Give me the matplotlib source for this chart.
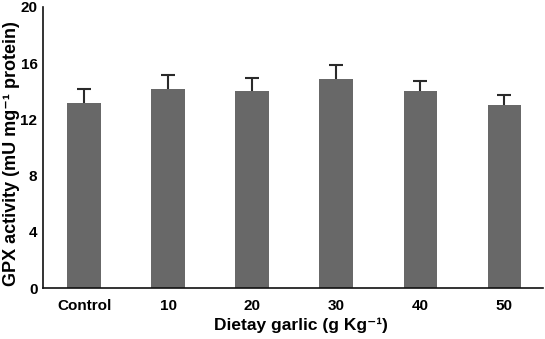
import matplotlib
matplotlib.use("Agg")
import matplotlib.pyplot as plt
import numpy as np

categories = ["Control", "10", "20", "30", "40", "50"]
gpx_mean = [13.2, 14.15, 14.05, 14.85, 14.05, 13.05]
gpx_err = [0.95, 1.0, 0.9, 1.05, 0.65, 0.7]
y_ticks = [0, 4, 8, 12, 16, 20]

plt.rcParams["font.family"] = ["Liberation Sans", "DejaVu Sans"]

fig = plt.figure(figsize=(5.45, 3.39), dpi=100)
ax = fig.add_axes([43 / 545, 51 / 339, 500 / 545, 281 / 339])

x = np.arange(len(categories))
bars = ax.bar(x, gpx_mean, width=0.4, color="#686868", zorder=2,
              yerr=[np.zeros(len(gpx_err)), gpx_err],
              error_kw=dict(ecolor="#2a2a2a", elinewidth=1.5, capsize=5, capthick=1.5))
# keep only the upper caps of the error bars
caplines = bars.errorbar.lines[1]
caplines[0].set_visible(False)

ax.set_xlim(-0.49, 5.46)
ax.set_ylim(0, 20)
ax.set_xticks(x)
ax.set_xticklabels(categories, fontsize=11, fontweight="bold")
ax.set_yticks(y_ticks)
ax.set_yticklabels([str(t) for t in y_ticks], fontsize=11, fontweight="bold")
ax.tick_params(length=0)
ax.tick_params(axis="x", pad=8)
ax.tick_params(axis="y", pad=4)

for s in ("top", "right"):
    ax.spines[s].set_visible(False)
for s in ("left", "bottom"):
    ax.spines[s].set_linewidth(1.2)
    ax.spines[s].set_color("#111111")

ax.set_xlabel("Dietay garlic (g Kg⁻¹)", fontsize=12.5, fontweight="bold", va="center")
ax.set_ylabel("GPX activity (mU mg⁻¹ protein)", fontsize=13, fontweight="bold", va="center")
ax.xaxis.set_label_coords((301 - 43) / 500, -(325 - 288) / 281)
ax.yaxis.set_label_coords(-(43 - 12) / 500, (288 - 154) / 281)

fig.savefig("out.png", dpi=100)
